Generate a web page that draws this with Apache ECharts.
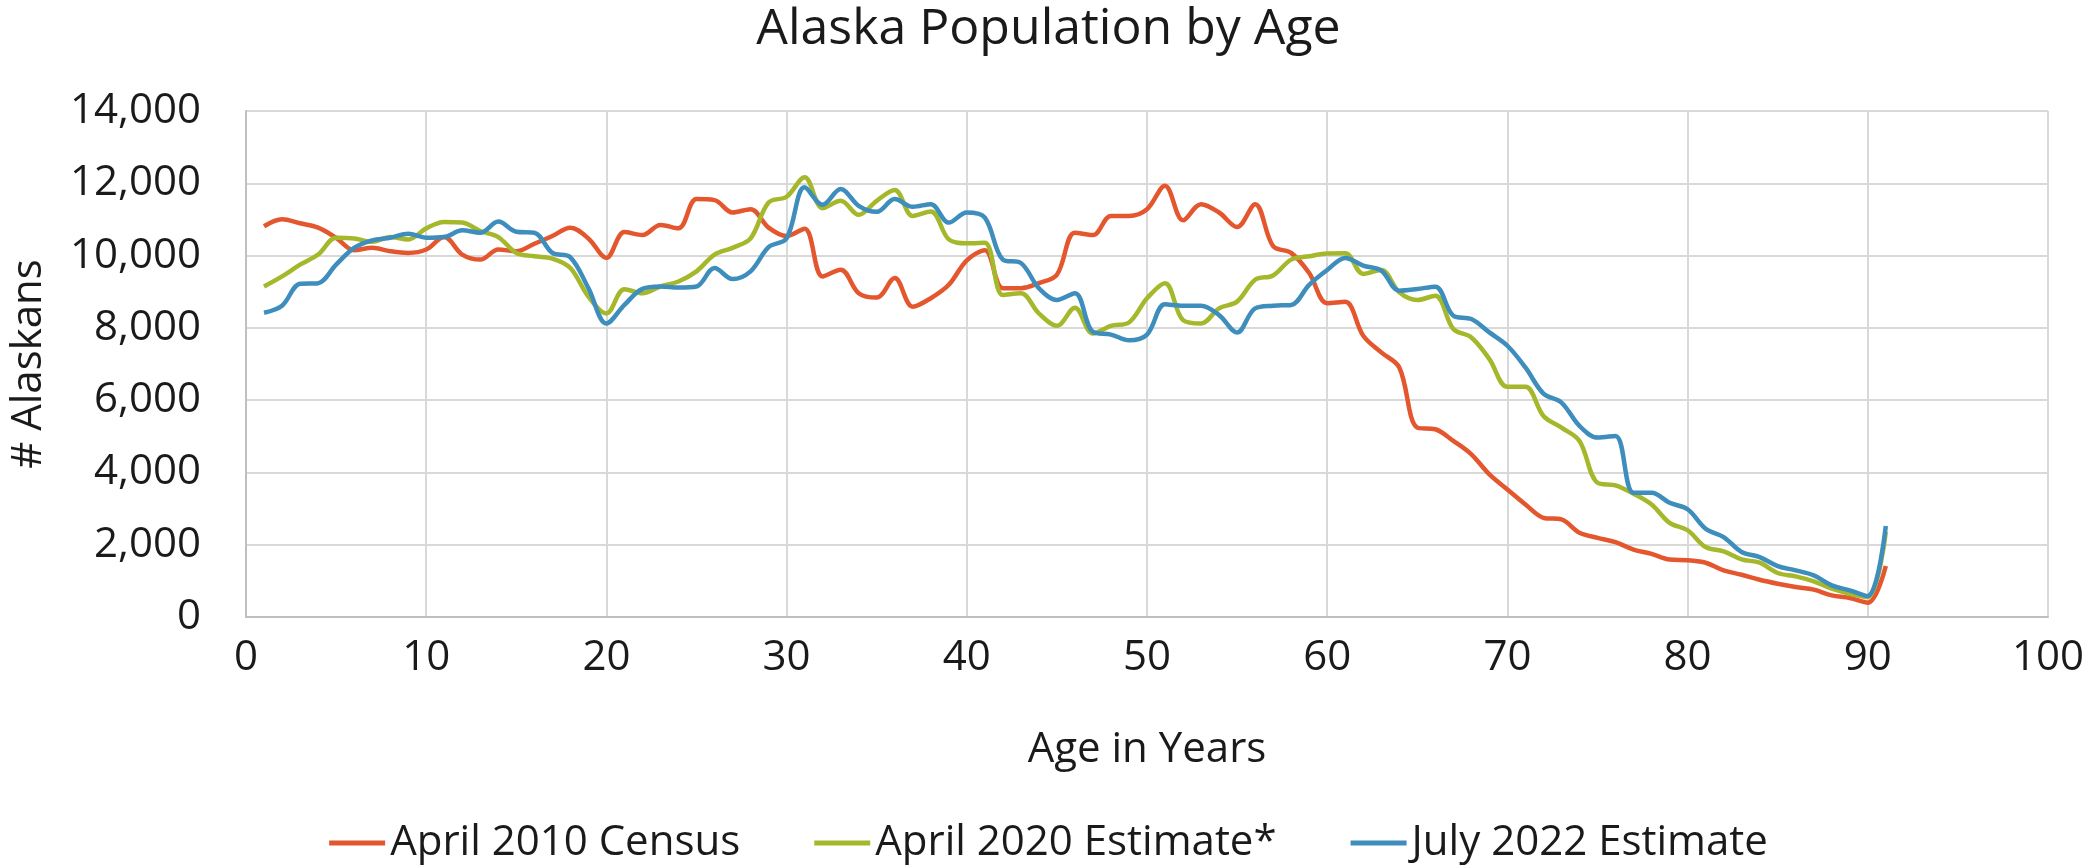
<!DOCTYPE html>
<html>
<head>
<meta charset="utf-8">
<script src="https://cdn.jsdelivr.net/npm/echarts@6/dist/echarts.min.js"></script>
<style>
  html, body { margin: 0; padding: 0; background: #fff; }
  #chart { width: 2097px; height: 865px; }
</style>
</head>
<body>
<div id="chart"></div>
<script>
// ages 1..91 (91 = 90+ bucket)
const ages = [];
for (let a = 1; a <= 91; a++) ages.push(a);

const census2010 = [
  10810, 11005, 10893, 10772, 10493, 10149, 10214, 10121, 10074, 10167,
  10512, 10028, 9888, 10167, 10121, 10326, 10540, 10772, 10474, 9935,
  10651, 10567, 10847, 10753, 11563, 11535, 11191, 11284, 10772, 10540,
  10744, 9423, 9609, 8958, 8837, 9377, 8586, 8819, 9191, 9870,
  10150, 9098, 9098, 9237, 9470, 10633, 10567, 11098, 11098, 11284,
  11935, 10977, 11423, 11191, 10791, 11423, 10260, 10074, 9516, 8680,
  8720, 7782, 7320, 6904, 5240, 5194, 4871, 4501, 3946, 3530,
  3115, 2745, 2699, 2329, 2190, 2070, 1867, 1747, 1590, 1570,
  1502, 1290, 1170, 1032, 922, 829, 756, 599, 525, 396,
  1410
];

const estimate2020 = [
  9144, 9423, 9749, 10028, 10493, 10474, 10381, 10512, 10447, 10753,
  10930, 10912, 10679, 10512, 10074, 9981, 9916, 9656, 8865, 8400,
  9070, 8958, 9144, 9284, 9563, 10028, 10214, 10474, 11470, 11628,
  12167, 11312, 11516, 11126, 11516, 11814, 11098, 11219, 10447, 10340,
  10353, 8912, 8958, 8400, 8056, 8558, 7842, 8056, 8149, 8819,
  9237, 8214, 8121, 8540, 8726, 9330, 9451, 9888, 9981, 10060,
  10065, 9492, 9603, 8983, 8771, 8891, 7967, 7736, 7135, 6368,
  6368, 5564, 5240, 4871, 3715, 3641, 3410, 3115, 2606, 2400,
  1935, 1816, 1594, 1502, 1217, 1124, 986, 783, 645, 553,
  2350
];

const estimate2022 = [
  8419, 8614, 9219, 9237, 9749, 10214, 10419, 10493, 10605, 10493,
  10512, 10698, 10633, 10940, 10660, 10633, 10074, 9953, 9098, 8121,
  8633, 9079, 9144, 9116, 9144, 9656, 9349, 9563, 10233, 10474,
  11888, 11405, 11842, 11377, 11209, 11563, 11349, 11423, 10912, 11191,
  11051, 9888, 9795, 9098, 8772, 8958, 7888, 7814, 7656, 7814,
  8651, 8614, 8614, 8353, 7870, 8540, 8614, 8633, 9191, 9600,
  9935, 9723, 9584, 9030, 9076, 9140, 8336, 8244, 7874, 7505,
  6904, 6183, 5933, 5287, 4963, 5009, 3438, 3438, 3161, 2980,
  2442, 2212, 1797, 1659, 1410, 1290, 1152, 876, 737, 581,
  2516
];

const seriesNames = ['April 2010 Census', 'April 2020 Estimate*', 'July 2022 Estimate'];
const seriesColors = ['#E4572E', '#A5B82B', '#3D8DBD'];

const font = "'Open Sans', 'Noto Sans', sans-serif";
const textColor = '#1a1a1a';

function pairs(values) {
  return ages.map((a, i) => [a, values[i]]);
}

const chart = echarts.init(document.getElementById('chart'));

const option = {
  animation: false,
  backgroundColor: '#fff',
  title: {
    text: 'Alaska Population by Age',
    left: 'center',
    top: 0,
    textStyle: { fontFamily: font, fontSize: 50, fontWeight: 'normal', color: textColor }
  },
  legend: {
    bottom: -4,
    left: 'center',
    itemWidth: 56,
    itemHeight: 5,
    itemGap: 74,
    icon: 'rect',
    textStyle: { fontFamily: font, fontSize: 42, color: textColor },
    data: seriesNames
  },
  grid: { left: 246, right: 49, top: 111, bottom: 248 },
  xAxis: {
    type: 'value',
    min: 0,
    max: 100,
    interval: 10,
    name: 'Age in Years',
    nameLocation: 'middle',
    nameGap: 112,
    nameTextStyle: { fontFamily: font, fontSize: 42, color: textColor },
    axisLine: { lineStyle: { color: '#bfbfbf', width: 2 } },
    axisTick: { show: false },
    axisLabel: { fontFamily: font, fontSize: 42, color: textColor, margin: 20 },
    splitLine: { show: true, lineStyle: { color: '#d9d9d9', width: 2 } }
  },
  yAxis: {
    type: 'value',
    min: 0,
    max: 14000,
    interval: 2000,
    name: '# Alaskans',
    nameLocation: 'middle',
    nameGap: 196,
    nameTextStyle: { fontFamily: font, fontSize: 42, color: textColor },
    axisLine: { show: true, lineStyle: { color: '#bfbfbf', width: 2 } },
    axisTick: { show: false },
    axisLabel: {
      fontFamily: font, fontSize: 42, color: textColor, margin: 45,
      formatter: v => v.toLocaleString('en-US')
    },
    splitLine: { show: true, lineStyle: { color: '#d9d9d9', width: 2 } }
  },
  series: [census2010, estimate2020, estimate2022].map((vals, i) => ({
    name: seriesNames[i],
    type: 'line',
    data: pairs(vals),
    smooth: 0.35,
    symbol: 'none',
    color: seriesColors[i],
    lineStyle: { width: 4.5, color: seriesColors[i] }
  }))
};

chart.setOption(option);
</script>
</body>
</html>
